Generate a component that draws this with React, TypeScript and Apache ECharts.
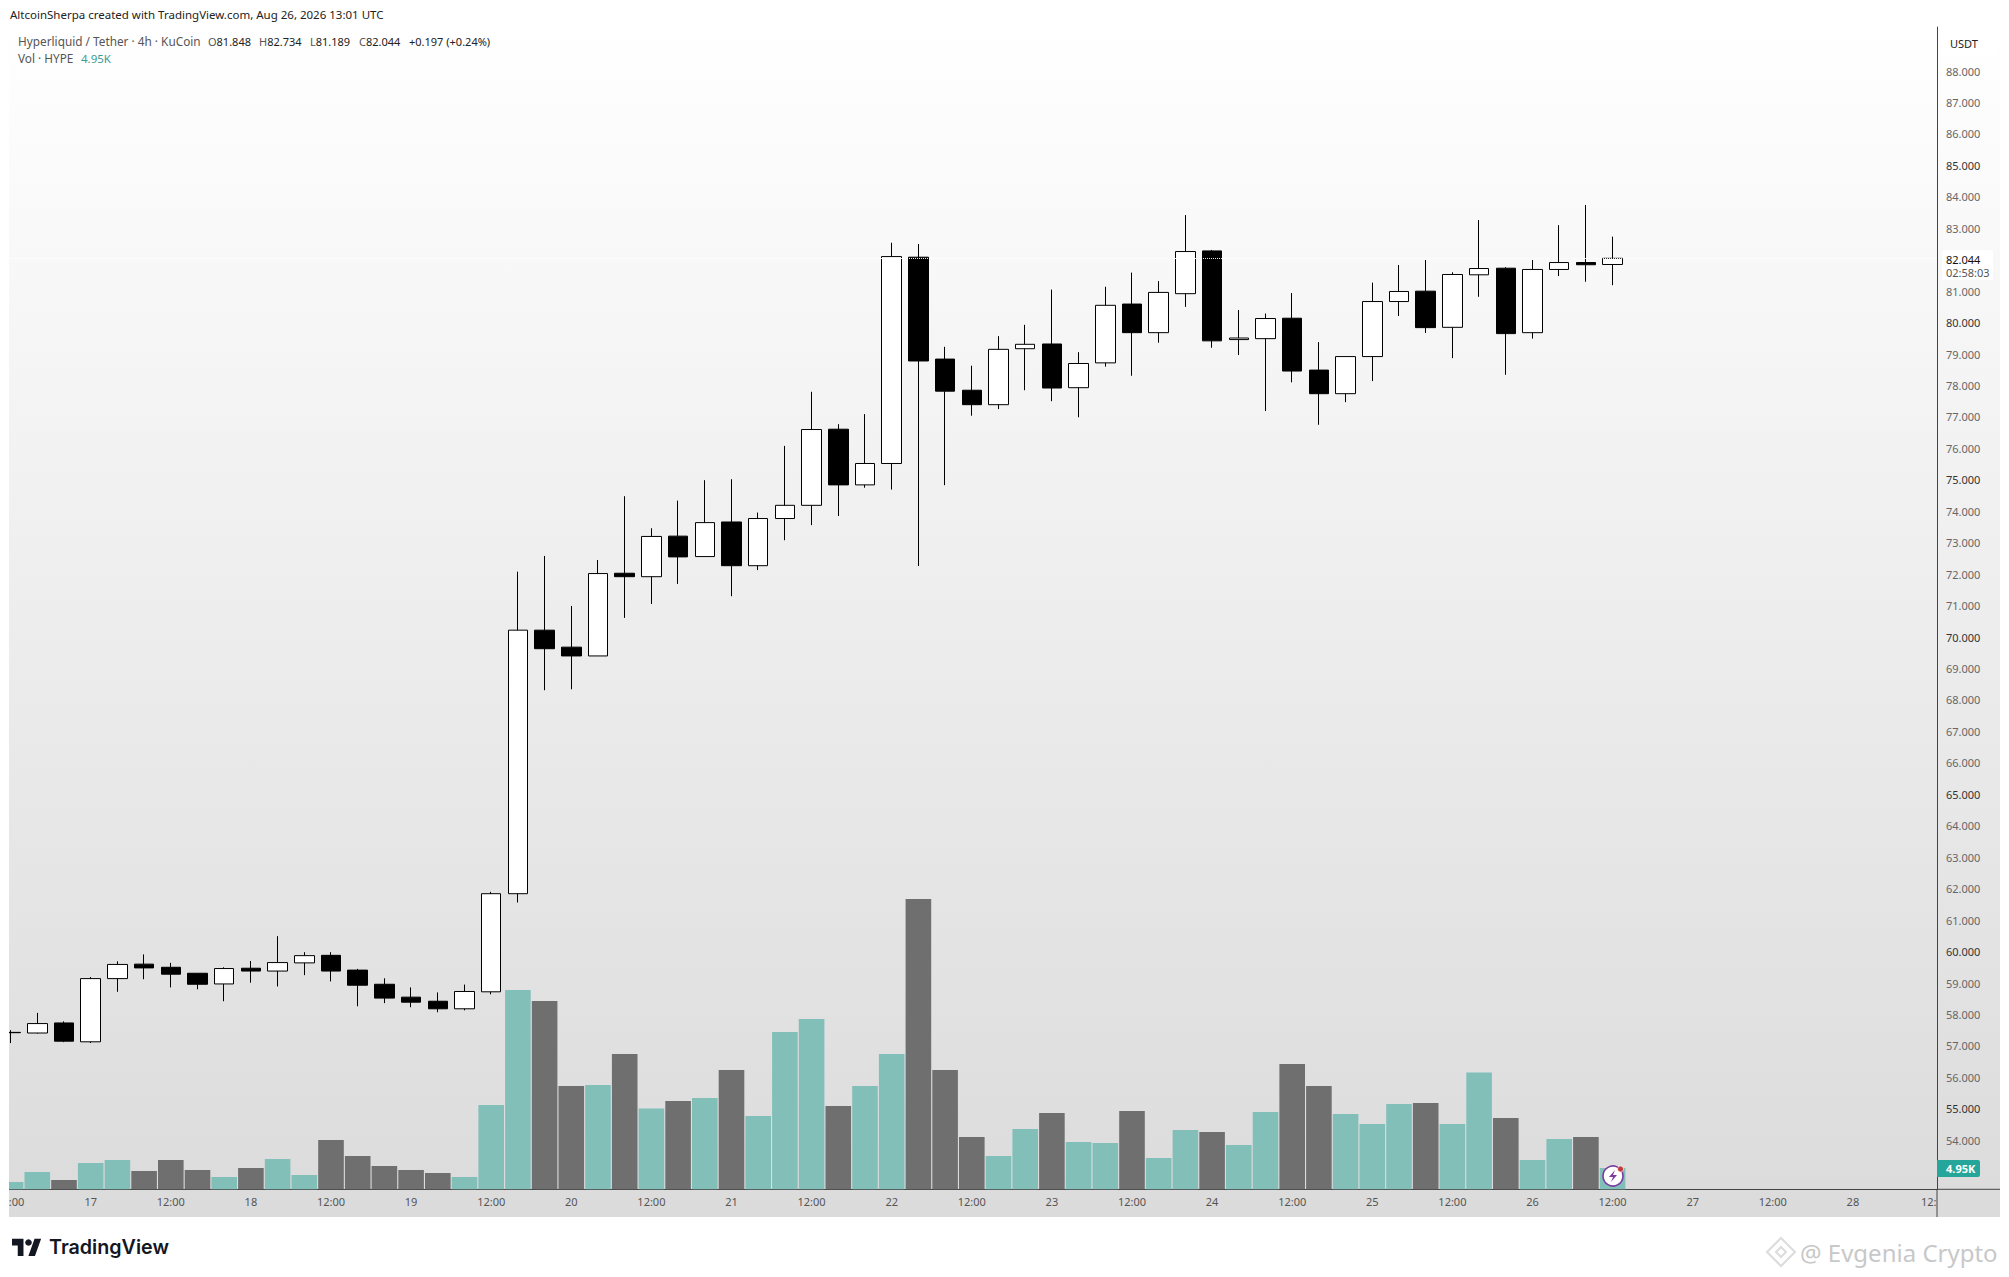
import React, { useEffect, useRef } from "react";
import * as echarts from "echarts";

// x is the candle count from 17 Aug 00:00, one unit per 4h
const candleX = [-3,-2,-1,0,1,2,3,4,5,6,7,8,9,10,11,12,13,14,15,16,17,18,19,20,21,22,23,24,25,26,27,28,29,30,31,32,33,34,35,36,37,38,39,40,41,42,43,44,45,46,47,48,49,50,51,52,53,54,55,56,57];
const opens = [57.42,57.41,57.73,57.13,59.14,59.60,59.50,59.31,58.97,59.47,59.38,59.64,59.88,59.41,58.96,58.55,58.42,58.18,58.72,61.84,70.22,69.68,69.40,72.03,71.92,73.21,72.56,73.66,72.27,73.77,74.19,76.61,74.84,75.52,82.08,78.84,77.85,77.39,79.17,79.32,77.93,78.72,80.59,79.68,80.92,82.28,79.46,79.49,80.14,78.49,77.74,78.92,80.67,81.00,79.85,81.52,81.73,79.68,81.69,81.91,81.848];
const closes = [57.43,57.71,57.15,59.14,59.59,59.48,59.28,58.96,59.46,59.38,59.65,59.87,59.38,58.93,58.52,58.39,58.18,58.73,61.84,70.22,69.63,69.40,72.02,71.92,73.20,72.55,73.64,72.27,73.77,74.19,76.60,74.84,75.52,82.10,78.78,77.82,77.39,79.15,79.31,77.92,78.70,80.55,79.68,80.96,82.26,79.42,79.51,80.13,78.46,77.74,78.92,80.67,80.99,79.84,81.53,81.72,79.65,81.69,81.91,81.84,82.044];
const lows = [57.09,57.39,57.12,57.09,58.72,59.12,58.86,58.80,58.42,59.01,58.89,59.25,59.05,58.26,58.36,58.23,58.07,58.13,58.64,61.56,68.31,68.34,69.40,70.61,71.05,71.69,72.56,71.30,72.13,73.08,73.56,73.85,74.75,74.69,72.26,74.83,77.04,77.25,77.85,77.50,76.99,78.60,78.31,79.36,80.50,79.20,78.97,77.19,78.10,76.75,77.47,78.14,80.21,79.67,78.87,80.82,78.34,79.49,81.48,81.30,81.189];
const highs = [57.50,58.05,57.78,59.19,59.69,59.91,59.64,59.31,59.50,59.70,60.49,59.98,59.98,59.45,59.15,58.86,58.70,58.95,61.90,72.08,72.58,70.99,72.45,74.48,73.46,74.34,74.99,75.02,73.96,76.08,77.80,76.77,77.09,82.54,82.50,79.23,78.63,79.57,79.93,81.05,79.06,81.14,81.59,81.32,83.42,82.31,80.40,80.29,80.94,79.38,78.92,81.27,81.83,81.99,81.60,83.26,81.76,81.99,83.10,83.74,82.734];
const volumes = [1.70,4.02,2.16,6.11,6.81,4.25,6.81,4.49,2.86,4.95,7.04,3.32,11.46,7.74,5.41,4.49,3.79,2.86,19.59,46.32,43.76,24.01,24.24,31.44,18.76,20.52,21.22,27.73,17.03,36.56,39.58,19.36,24.01,31.44,67.47,27.73,12.15,7.74,14.01,17.73,10.99,10.76,18.20,7.27,13.78,13.32,10.30,17.96,29.12,24.01,17.50,15.18,19.82,20.06,15.18,27.12,16.57,6.81,11.69,12.15,4.95];
const priceTicks = [54,55,56,57,58,59,60,61,62,63,64,65,66,67,68,69,70,71,72,73,74,75,76,77,78,79,80,81,83,84,85,86,87,88];
const timeTickPos = [-2.78,0,3,6,9,12,15,18,21,24,27,30,33,36,39,42,45,48,51,54,57,60,63,66,68.84];
const timeTickLabels = [":00","17","12:00","18","12:00","19","12:00","20","12:00","21","12:00","22","12:00","23","12:00","24","12:00","25","12:00","26","12:00","27","12:00","28","12:"];
const lastClose = 82.044;

const FONT = '"Noto Sans", sans-serif';
const W = 2009, H = 1277;
const PLOT_L = 9, PLOT_R = 1937, PLOT_T = 27, PLOT_B = 1189.3, PANEL_R = 2000, PANEL_B = 1217;

const txt = (x: number, y: number, text: string, extra: any = {}) => ({
  type: "text", x, y, z: 100, silent: true,
  style: { text, fontFamily: FONT, fontSize: 11, fill: "#555", verticalAlign: "middle", ...extra },
});
const ohlcRich = {
  g: { fontFamily: FONT, fontSize: 11, fill: "#555", color: "#555" },
  d: { fontFamily: FONT, fontSize: 11, fill: "#222", color: "#222" },
};

export default function App() {
  const ref = useRef<HTMLDivElement>(null);
  useEffect(() => {
    if (!ref.current) return;
    echarts.graphic.registerShape(
      "tvmark",
      echarts.graphic.extendPath("M14 22H7V11H0V4h14v18zM28 22h-8l7.5-18h8L28 22z", {}) as any
    );
    const chart = echarts.init(ref.current, null, { renderer: "svg", width: W, height: H });
    const option: any = {
      animation: false,
      backgroundColor: "#fff",
      grid: { left: PLOT_L, right: W - PLOT_R, top: PLOT_T, bottom: H - PLOT_B, containLabel: false },
      xAxis: {
        type: "value", min: -3.06, max: 69.15,
        axisLine: { show: true, onZero: false, lineStyle: { color: "#444", width: 1 } },
        axisTick: { show: false }, splitLine: { show: false },
        axisLabel: {
          customValues: timeTickPos,
          formatter: (v: number) => timeTickLabels[timeTickPos.indexOf(v)] ?? "",
          color: "#555", fontFamily: FONT, fontSize: 11, margin: 7, hideOverlap: false,
        },
      },
      yAxis: [
        {
          type: "value", position: "right", min: 52.44, max: 89.4, scale: true,
          axisLine: { show: true, onZero: false, lineStyle: { color: "#444", width: 1 } },
          axisTick: { show: false }, splitLine: { show: false },
          axisLabel: {
            customValues: priceTicks,
            margin: 9, align: "left",
            formatter: (v: number) => (v % 5 === 0 ? `{b|${v.toFixed(3)}}` : `{n|${v.toFixed(3)}}`),
            rich: {
              b: { color: "#333", fontFamily: FONT, fontSize: 11 },
              n: { color: "#666", fontFamily: FONT, fontSize: 11 },
            },
          },
        },
        { type: "value", show: false, min: 0, max: 270.1, splitLine: { show: false } },
      ],
      series: [
        {
          type: "bar", yAxisIndex: 1, barWidth: 25.6, z: 2, silent: true,
          data: candleX.map((x, i) => ({
            value: [x, volumes[i]],
            itemStyle: { color: closes[i] >= opens[i] ? "#82bfb9" : "#6f6f6f" },
          })),
        },
        {
          type: "candlestick", yAxisIndex: 0, barWidth: 20, z: 3, silent: true,
          itemStyle: { color: "#ffffff", color0: "#000000", borderColor: "#000000", borderColor0: "#000000", borderWidth: 1 },
          data: candleX.map((x, i) => [x, opens[i], closes[i], lows[i], highs[i]]),
          markLine: {
            silent: true, symbol: "none", animation: false, label: { show: false },
            lineStyle: { color: "#ffffff", type: "dotted", width: 1, opacity: 0.9 },
            data: [{ yAxis: lastClose }],
          },
        },
      ],
      graphic: [
        // panel
        {
          type: "rect", z: -1, silent: true,
          shape: { x: PLOT_L, y: PLOT_T, width: PANEL_R - PLOT_L, height: PANEL_B - PLOT_T },
          style: {
            fill: new echarts.graphic.LinearGradient(0, 0, 0, 1, [
              { offset: 0, color: "#ffffff" },
              { offset: 1, color: "#dbdbdb" },
            ]),
          },
        },
        // page margin that hides what overflows the plot on the left
        { type: "rect", z: 90, silent: true, shape: { x: 0, y: PLOT_T, width: PLOT_L, height: PANEL_B - PLOT_T }, style: { fill: "#ffffff" } },
        { type: "line", z: 50, silent: true, shape: { x1: PLOT_R, y1: PLOT_B, x2: PANEL_R, y2: PLOT_B }, style: { stroke: "#444", lineWidth: 1 } },
        { type: "line", z: 50, silent: true, shape: { x1: PLOT_R, y1: PLOT_B, x2: PLOT_R, y2: PANEL_B }, style: { stroke: "#444", lineWidth: 1 } },
        // header
        txt(10, 14.5, "AltcoinSherpa created with TradingView.com, Aug 26, 2026 13:01 UTC", { fill: "#222", fontSize: 11.5 }),
        txt(18, 41, "Hyperliquid / Tether · 4h · KuCoin", { fontSize: 11.8 }),
        txt(208, 41, "{g|O}{d|81.848}", { rich: ohlcRich }),
        txt(259, 41, "{g|H}{d|82.734}", { rich: ohlcRich }),
        txt(310, 41, "{g|L}{d|81.189}", { rich: ohlcRich }),
        txt(359, 41, "{g|C}{d|82.044}", { rich: ohlcRich }),
        txt(409, 41, "+0.197 (+0.24%)", { fill: "#222" }),
        txt(18, 58, "Vol · HYPE", { fontSize: 11.8 }),
        txt(81, 58, "4.95K", { fill: "#3d9c92", fontSize: 11.5 }),
        // USDT box
        { type: "rect", z: 60, silent: true, shape: { x: 1942, y: 32, width: 53, height: 25, r: 3 }, style: { fill: "#ffffff" } },
        txt(1950, 43.5, "USDT", { fill: "#222" }),
        // last price tag
        { type: "rect", z: 60, silent: true, shape: { x: 1942, y: 250, width: 51, height: 30, r: 2 }, style: { fill: "#ffffff" } },
        txt(1946, 259, "82.044", { fill: "#111" }),
        txt(1946, 272, "02:58:03", { fill: "#555" }),
        // volume tag
        { type: "rect", z: 60, silent: true, shape: { x: 1937, y: 1160, width: 43, height: 17, r: [0, 2, 2, 0] }, style: { fill: "#26a69a" } },
        txt(1946, 1168.5, "4.95K", { fill: "#ffffff", fontWeight: 700 }),
        // lightning marker
        { type: "circle", z: 70, silent: true, shape: { cx: 1613, cy: 1176, r: 10 }, style: { fill: "#ffffff", stroke: "#7a3c9e", lineWidth: 1.6 } },
        { type: "polygon", z: 71, silent: true, shape: { points: [[1615, 1170], [1609, 1177], [1613, 1177], [1611, 1182], [1617, 1175], [1613, 1175]] }, style: { fill: "#7a3c9e" } },
        { type: "circle", z: 72, silent: true, shape: { cx: 1620.5, cy: 1169, r: 3 }, style: { fill: "#c53a3a", stroke: "#fff", lineWidth: 0.6 } },
        // TradingView mark
        { type: "tvmark", z: 80, silent: true, x: 12, y: 1235, scaleX: 0.82, scaleY: 0.95, style: { fill: "#131722" } },
        { type: "circle", z: 80, silent: true, shape: { cx: 28.5, cy: 1242.5, r: 3.3 }, style: { fill: "#131722" } },
        txt(49, 1247, "TradingView", { fill: "#131722", fontFamily: "Inter, sans-serif", fontWeight: 600, fontSize: 19.7 }),
        // watermark
        { type: "polygon", z: 80, silent: true, shape: { points: [[1781, 1238], [1795, 1252], [1781, 1266], [1767, 1252]] }, style: { fill: "none", stroke: "#dcdcdc", lineWidth: 2 } },
        { type: "polygon", z: 80, silent: true, shape: { points: [[1781, 1247], [1786, 1252], [1781, 1257], [1776, 1252]] }, style: { fill: "none", stroke: "#dcdcdc", lineWidth: 2 } },
        txt(1800, 1252, "@ Evgenia Crypto", { fill: "#c8c8c8", fontSize: 24 }),
      ],
    };
    chart.setOption(option);
    return () => chart.dispose();
  }, []);
  return <div ref={ref} style={{ position: "absolute", left: 0, top: 0, width: W, height: H }} />;
}
